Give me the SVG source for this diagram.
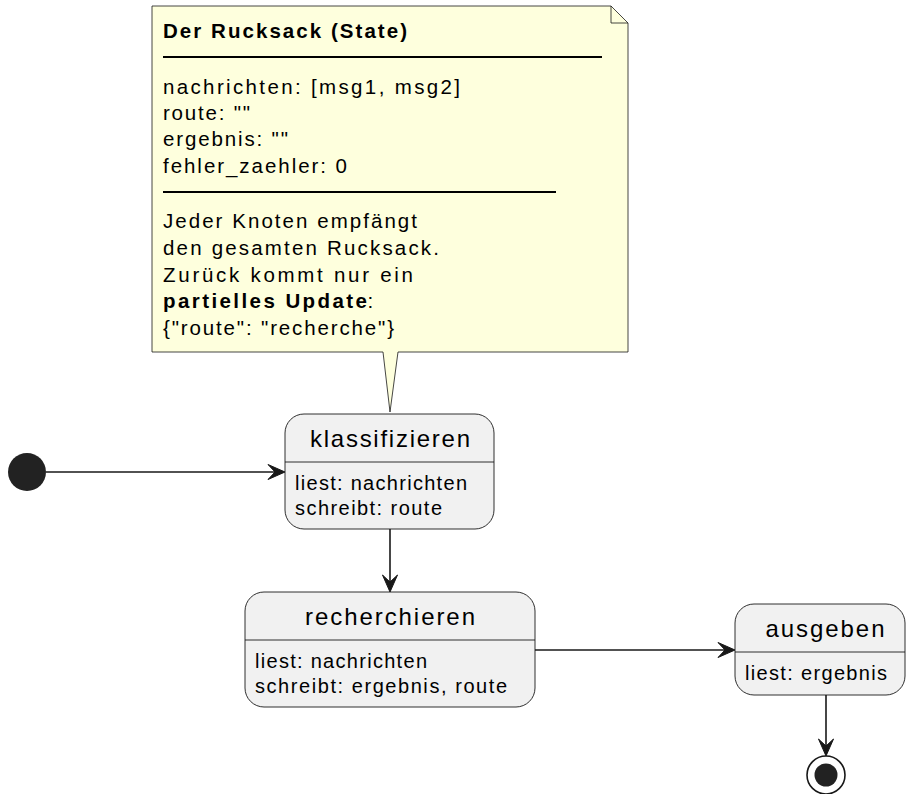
<svg xmlns="http://www.w3.org/2000/svg" width="906" height="794" viewBox="0 0 906 794">
  <style>
    text { font-family: "Liberation Sans", Arial, Helvetica, sans-serif; fill: #000000; }
    .note-txt { font-size: 20.5px; }
    .note-bold { font-size: 20.5px; font-weight: bold; }
    .name { font-size: 24px; text-anchor: middle; }
    .body { font-size: 20px; }
    .state { fill: #F1F1F1; stroke: #181818; stroke-width: 0.9; }
    .sep { stroke: #181818; stroke-width: 0.9; }
    .edge { stroke: #181818; stroke-width: 1.6; fill: none; }
    .head { fill: #181818; stroke: #181818; stroke-width: 1; stroke-linejoin: miter; }
    .rule { stroke: #000000; stroke-width: 2; }
  </style>

  <!-- note attached to "klassifizieren" -->
  <g id="note-rucksack">
    <path d="M152,6 L611,6 L628,23 L628,352 L398,352 L390,412 L383,352 L152,352 Z" fill="#FEFFDD" stroke="#181818" stroke-width="0.8"/>
    <path d="M611,6 L611,23 L628,23" fill="none" stroke="#181818" stroke-width="0.8"/>
    <text class="note-bold" x="163" y="38" textLength="244" lengthAdjust="spacing">Der Rucksack (State)</text>
    <line class="rule" x1="163" y1="57" x2="602" y2="57"/>
    <text class="note-txt" x="163" y="94" textLength="297" lengthAdjust="spacing">nachrichten: [msg1, msg2]</text>
    <text class="note-txt" x="163" y="120" textLength="87" lengthAdjust="spacing">route: ""</text>
    <text class="note-txt" x="163" y="146" textLength="125" lengthAdjust="spacing">ergebnis: ""</text>
    <text class="note-txt" x="163" y="172.5" textLength="184" lengthAdjust="spacing">fehler_zaehler: 0</text>
    <line class="rule" x1="163" y1="192" x2="556" y2="192"/>
    <text class="note-txt" x="163" y="228" textLength="254" lengthAdjust="spacing">Jeder Knoten empfängt</text>
    <text class="note-txt" x="163" y="255" textLength="276" lengthAdjust="spacing">den gesamten Rucksack.</text>
    <text class="note-txt" x="163" y="281.5" textLength="250" lengthAdjust="spacing">Zurück kommt nur ein</text>
    <text class="note-bold" x="163" y="308" textLength="204" lengthAdjust="spacing">partielles Update</text>
    <text class="note-txt" x="367.5" y="308">:</text>
    <text class="note-txt" x="163" y="334.5" textLength="231" lengthAdjust="spacing">{"route": "recherche"}</text>
  </g>

  <!-- initial pseudo-state -->
  <g id="start">
    <circle cx="27" cy="472" r="19" fill="#222222"/>
  </g>

  <g id="klassifizieren">
    <rect class="state" x="285" y="414" width="209" height="115" rx="19" ry="19"/>
    <line class="sep" x1="285" y1="462" x2="494" y2="462"/>
    <text class="name" x="390" y="447" textLength="160" lengthAdjust="spacing">klassifizieren</text>
    <text class="body" x="295" y="490" textLength="172" lengthAdjust="spacing">liest: nachrichten</text>
    <text class="body" x="295" y="515" textLength="147" lengthAdjust="spacing">schreibt: route</text>
  </g>

  <g id="recherchieren">
    <rect class="state" x="245" y="592" width="290" height="115" rx="19" ry="19"/>
    <line class="sep" x1="245" y1="640" x2="535" y2="640"/>
    <text class="name" x="390" y="625" textLength="170" lengthAdjust="spacing">recherchieren</text>
    <text class="body" x="255" y="668" textLength="172" lengthAdjust="spacing">liest: nachrichten</text>
    <text class="body" x="255" y="693" textLength="252" lengthAdjust="spacing">schreibt: ergebnis, route</text>
  </g>

  <g id="ausgeben">
    <rect class="state" x="735" y="604" width="170" height="91" rx="19" ry="19"/>
    <line class="sep" x1="735" y1="652" x2="905" y2="652"/>
    <text class="name" x="825" y="637" textLength="119" lengthAdjust="spacing">ausgeben</text>
    <text class="body" x="745" y="680" textLength="142" lengthAdjust="spacing">liest: ergebnis</text>
  </g>

  <!-- final pseudo-state -->
  <g id="end">
    <circle cx="826" cy="775" r="19" fill="none" stroke="#181818" stroke-width="1.6"/>
    <circle cx="826" cy="775" r="11.5" fill="#222222"/>
  </g>

  <!-- transitions -->
  <g id="edges">
    <line class="edge" x1="46" y1="472" x2="278" y2="472"/>
    <polygon class="head" points="285,472 268,464.5 275,472 268,479.5"/>

    <line class="edge" x1="390" y1="529" x2="390" y2="585"/>
    <polygon class="head" points="390,592 382.5,575 390,582 397.5,575"/>

    <line class="edge" x1="535" y1="650" x2="728" y2="650"/>
    <polygon class="head" points="735,650 718,642.5 725,650 718,657.5"/>

    <line class="edge" x1="826" y1="695" x2="826" y2="749"/>
    <polygon class="head" points="826,756 818.5,739 826,746 833.5,739"/>
  </g>
</svg>
